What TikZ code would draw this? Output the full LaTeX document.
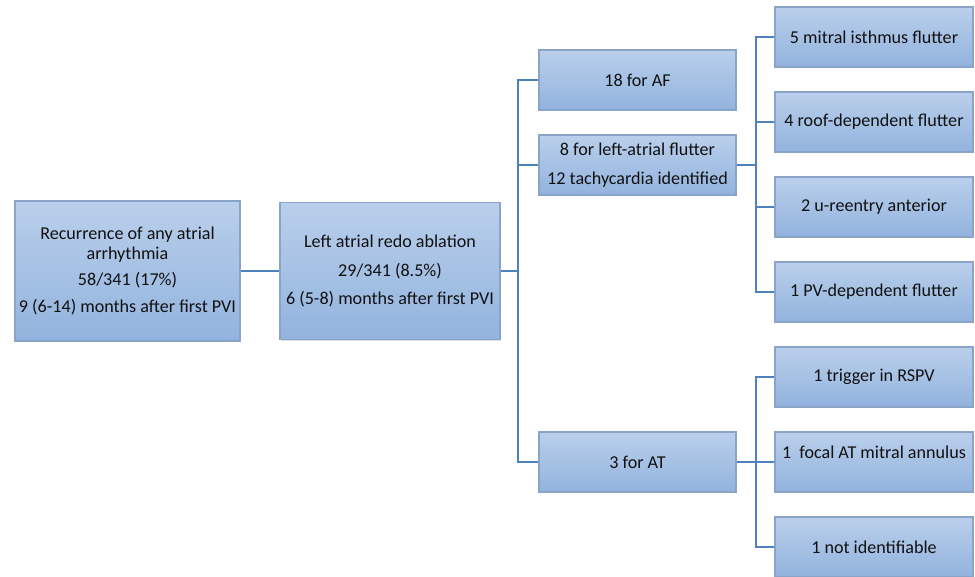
\documentclass[tikz,border=0pt]{standalone}
\usepackage{fontspec}
\setmainfont{Carlito}
\usetikzlibrary{shapes,arrows,shadows}
\definecolor{boxtop}{HTML}{BACFEB}
\definecolor{boxbottom}{HTML}{92B3DE}
\definecolor{boxline}{HTML}{8AA4C8}
\definecolor{linkline}{HTML}{4F81BD}
\definecolor{txt}{HTML}{111111}
\tikzset{
	stage/.style={draw=boxline, line width=0.6pt, top color=boxtop, bottom color=boxbottom,
		text=txt, font=\fontsize{10.3}{11.2}\selectfont, align=center, inner sep=2pt,
		drop shadow={shadow xshift=0.6pt, shadow yshift=-0.6pt, opacity=0.25}},
	mainstage/.style={stage, minimum width=4.5cm, minimum height=2.8cm},
	midstage/.style={stage, minimum width=3.94cm, minimum height=1.2cm},
	substage/.style={stage, minimum width=3.96cm, minimum height=1.2cm},
	link/.style={draw=linkline, line width=0.95pt}
}

\begin{document}
\begin{tikzpicture}[x=0.02cm, y=-0.02cm]
		\useasboundingbox (0,0) rectangle (975,577);

		\node[mainstage] (recurrence) at (127.5,271) {Recurrence of any atrial\\arrhythmia\\[4pt]58/341 (17\%)\\[4pt]9 (6-14) months after first PVI};
		\node[mainstage, minimum width=4.4cm, minimum height=2.74cm] (redo) at (390,271) {Left atrial redo ablation\\[5pt]29/341 (8.5\%)\\[5pt]6 (5-8) months after first PVI};

		\node[midstage] (af) at (637.5,80) {18 for AF};
		\node[midstage] (flutter) at (637.5,165) {8 for left-atrial flutter\\[5pt]12 tachycardia identified};
		\node[midstage] (at) at (637.5,462) {3 for AT};

		\node[substage] (mitral) at (874,37) {5 mitral isthmus flutter};
		\node[substage] (roof) at (874,122) {4 roof-dependent flutter};
		\node[substage] (ureentry) at (874,207) {2 u-reentry anterior};
		\node[substage] (pvdep) at (874,292) {1 PV-dependent flutter};

		\node[substage] (trigger) at (874,377) {1 trigger in RSPV};
		\node[substage] (focal) at (874,462) {1\ \ focal AT mitral annulus\\\mbox{}};
		\node[substage] (unknown) at (874,547) {1 not identifiable};

		\coordinate (redofork) at (518,271);
		\coordinate (flutterfork) at (756,165);
		\coordinate (atfork) at (756,462);

		\draw[link] (recurrence.east) -- (redo.west);
		\draw[link] (redo.east) -- (redofork);
		\draw[link] (redofork) |- (af.west);
		\draw[link] (redofork) |- (flutter.west);
		\draw[link] (redofork) |- (at.west);

		\draw[link] (flutter.east) -- (flutterfork);
		\foreach \leaf in {mitral, roof, ureentry, pvdep}
			\draw[link] (flutterfork) |- (\leaf.west);

		\draw[link] (at.east) -- (atfork);
		\foreach \leaf in {trigger, focal, unknown}
			\draw[link] (atfork) |- (\leaf.west);
\end{tikzpicture}
\end{document}
